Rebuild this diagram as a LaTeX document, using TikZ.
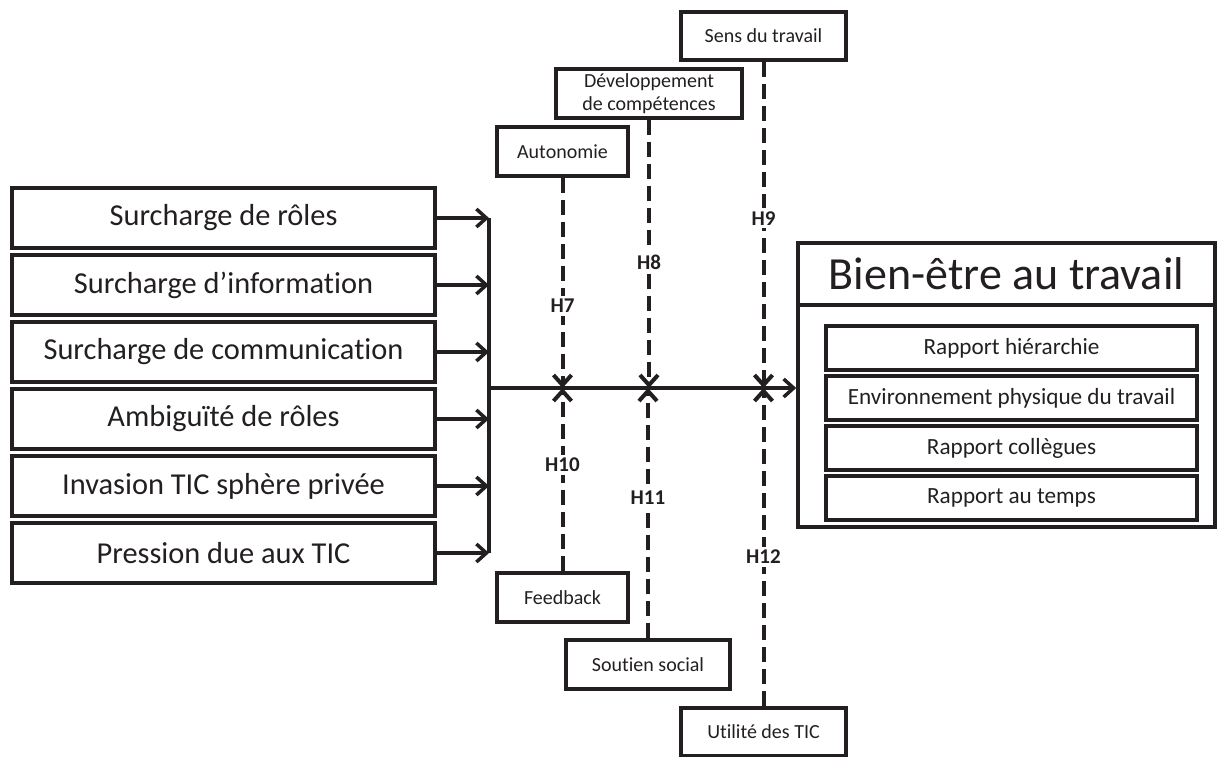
\documentclass[tikz,border=0pt]{standalone}
\usepackage{fontspec}
\setmainfont[Ligatures=NoCommon]{Carlito}
\usetikzlibrary{arrows.meta,positioning,calc}
\definecolor{Ink}{HTML}{231F20}

\tikzset{
  facteur/.style={draw=Ink,line width=1.75pt,minimum width=211.5pt,minimum height=30pt,inner sep=0pt,text=Ink,font=\fontsize{15.2}{18}\selectfont},
  moderateur/.style={draw=Ink,line width=1.75pt,minimum height=24.5pt,inner sep=0pt,text=Ink,align=center,font=\fontsize{10}{11.5}\selectfont},
  dimension/.style={draw=Ink,line width=1.75pt,minimum width=185.5pt,minimum height=22pt,inner sep=0pt,text=Ink,font=\fontsize{11.6}{13}\selectfont},
  hyp/.style={fill=white,inner sep=1.5pt,text=Ink,font=\bfseries\fontsize{10.5}{12}\selectfont},
  fleche/.style={->,draw=Ink,line width=1.75pt},
  moderation/.style={->,draw=Ink,line width=2pt,dash pattern=on 7.5pt off 3.5pt}
}

\begin{document}
\begin{tikzpicture}[x=0.5pt,y=-0.5pt,>={Straight Barb[length=5pt,width=9pt]}]
\useasboundingbox (0,0) rectangle (1217,756);
% facteurs de stress
\node[facteur] (f1) at (223.5,218) {Surcharge de rôles};
\node[facteur] (f2) at (223.5,285) {Surcharge d’information};
\node[facteur] (f3) at (223.5,352) {Surcharge de communication};
\node[facteur] (f4) at (223.5,419) {Ambiguïté de rôles};
\node[facteur] (f5) at (223.5,486) {Invasion TIC sphère privée};
\node[facteur] (f6) at (223.5,553) {Pression due aux TIC};
\coordinate (hub) at (489,388);
% bien-etre
\node[draw=Ink,line width=1.75pt,minimum width=208.5pt,minimum height=142pt,inner sep=0pt] (bienetre) at (1006.5,385) {};
\node[draw=Ink,line width=1.75pt,minimum width=208.5pt,minimum height=31pt,inner sep=0pt,text=Ink,font=\fontsize{23}{27}\selectfont] (titre) at (1006.5,274) {Bien-être au travail};
\node[dimension] (d1) at (1011.5,348) {Rapport hiérarchie};
\node[dimension] (d2) at (1011.5,398) {Environnement physique du travail};
\node[dimension] (d3) at (1011.5,448) {Rapport collègues};
\node[dimension] (d4) at (1011.5,498) {Rapport au temps};
% moderateurs
\node[moderateur,minimum width=65.5pt] (auto) at (562.5,151.5) {Autonomie};
\node[moderateur,minimum width=93pt] (dev) at (649,93.5) {Développement\\de compétences};
\node[moderateur,minimum width=82.5pt,minimum height=24pt] (sens) at (763.5,36) {Sens du travail};
\node[moderateur,minimum width=65.5pt] (feed) at (562.5,597.5) {Feedback};
\node[moderateur,minimum width=82pt] (soutien) at (648,664.5) {Soutien social};
\node[moderateur,minimum width=82.5pt,minimum height=24pt] (util) at (763.5,732) {Utilité des TIC};
% connecteurs
\foreach \f in {f1,f2,f3,f4,f5,f6}
  \draw[fleche] (\f.east) -- (\f.east -| hub);
\draw[draw=Ink,line width=1.75pt] (f1.east -| hub) -- (f6.east -| hub);
\draw[fleche] (hub) -- (hub -| bienetre.west);
\draw[moderation] (auto) -- (auto |- hub) node[hyp,pos=0.61] {H7};
\draw[moderation] (dev) -- (dev |- hub) node[hyp,pos=0.53] {H8};
\draw[moderation] (sens) -- (sens |- hub) node[hyp,pos=0.48] {H9};
\draw[moderation] (feed) -- (feed |- hub) node[hyp,pos=0.58] {H10};
\draw[moderation] (soutien) -- (soutien |- hub) node[hyp,pos=0.56] {H11};
\draw[moderation] (util) -- (util |- hub) node[hyp,pos=0.47] {H12};
\end{tikzpicture}
\end{document}
